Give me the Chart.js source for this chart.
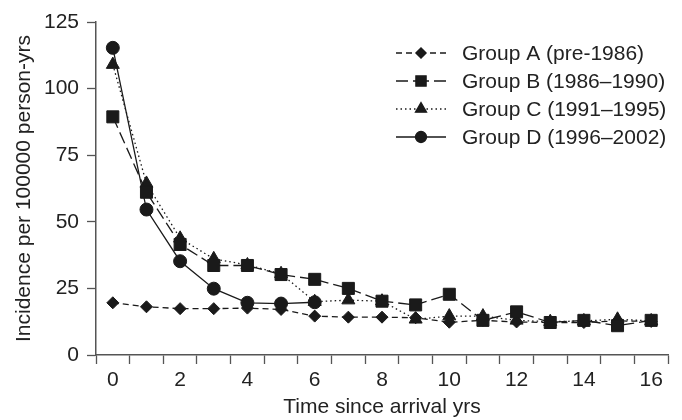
<!DOCTYPE html>
<html>
<head>
<meta charset="utf-8">
<script src="https://cdn.jsdelivr.net/npm/chart.js@4.4.1/dist/chart.umd.min.js"></script>
<style>
  body { margin: 0; background: #fff; }
  #wrap { width: 682px; height: 420px; }
</style>
</head>
<body>
<div id="wrap"><canvas id="myChart"></canvas></div>
<script>
// years since arrival
const years = [0, 1, 2, 3, 4, 5, 6, 7, 8, 9, 10, 11, 12, 13, 14, 15, 16];

// incidence per 100000 person-yrs
const groupA = [19.6, 18.1, 17.4, 17.4, 17.6, 17.1, 14.6, 14.2, 14.2, 14.0, 12.3, 13.0, 12.4, 12.2, 12.2, 12.8, 12.6];
const groupB = [89.4, 61.1, 41.5, 33.6, 33.6, 30.2, 28.4, 25.0, 20.2, 18.8, 22.8, 13.0, 16.2, 12.2, 13.0, 11.0, 13.0];
const groupC = [109.0, 64.4, 43.8, 36.1, 33.8, 30.5, 20.0, 20.6, 20.2, 13.4, 14.6, 14.6, 13.0, 12.5, 12.8, 13.4, 12.8];
const groupD = [115.3, 54.6, 35.2, 24.9, 19.6, 19.3, 19.8];

const seriesLabels = ['Group A (pre-1986)', 'Group B (1986\u20131990)', 'Group C (1991\u20131995)', 'Group D (1996\u20132002)'];
const yTicks = [0, 25, 50, 75, 100, 125];
const xLabels = [0, 2, 4, 6, 8, 10, 12, 14, 16];

const ink = '#1a1a1a';
const axisColor = '#555';
const fontFamily = "'Liberation Sans', Arial, sans-serif";

Chart.defaults.font.family = fontFamily;
Chart.defaults.font.size = 21;
Chart.defaults.color = '#222';

const toPoints = (vals) => vals.map((v, i) => ({ x: years[i], y: v }));

const makeSet = (label, vals, style, radius, dash, order) => ({
  label: label,
  data: toPoints(vals),
  borderColor: ink,
  borderWidth: 1.3,
  borderDash: dash,
  backgroundColor: ink,
  pointStyle: style,
  pointRadius: radius,
  pointHoverRadius: radius,
  pointBackgroundColor: ink,
  pointBorderColor: ink,
  pointBorderWidth: 1,
  tension: 0,
  fill: false,
  order: order
});

// legend with a line sample and marker, like the figure
const lineLegend = {
  id: 'lineLegend',
  afterDraw(chart) {
    const ctx = chart.ctx;
    const area = chart.chartArea;
    const x0 = area.right - 272;
    const sample = 50;
    ctx.save();
    ctx.font = '21px ' + fontFamily;
    ctx.textBaseline = 'middle';
    ctx.textAlign = 'left';
    chart.data.datasets.forEach((ds, i) => {
      const y = area.top + 31 + i * 28;
      const mid = x0 + sample / 2;
      ctx.strokeStyle = ds.borderColor;
      ctx.lineWidth = ds.borderWidth;
      ctx.setLineDash(ds.borderDash);
      ctx.beginPath();
      ctx.moveTo(x0, y);
      ctx.lineTo(mid, y);
      ctx.moveTo(x0 + sample, y);
      ctx.lineTo(mid, y);
      ctx.stroke();
      ctx.setLineDash([]);
      ctx.fillStyle = ds.pointBackgroundColor;
      ctx.strokeStyle = ds.pointBorderColor;
      Chart.helpers.drawPoint(ctx, {
        pointStyle: ds.pointStyle,
        radius: ds.pointRadius * 0.85,
        rotation: 0,
        borderWidth: 1
      }, mid, y);
      ctx.fillStyle = '#222';
      ctx.fillText(ds.label, x0 + sample + 16, y + 1);
    });
    ctx.restore();
  }
};

const ctx = document.getElementById('myChart').getContext('2d');
new Chart(ctx, {
  type: 'line',
  data: {
    datasets: [
      makeSet(seriesLabels[0], groupA, 'rectRot', 6, [6, 4], 2),
      makeSet(seriesLabels[1], groupB, 'rect', 8.5, [12, 5], 0),
      makeSet(seriesLabels[2], groupC, 'triangle', 7.5, [1.5, 3], 3),
      makeSet(seriesLabels[3], groupD, 'circle', 6.5, [], 1)
    ]
  },
  options: {
    responsive: true,
    maintainAspectRatio: false,
    animation: false,
    layout: {
      padding: { top: 22, right: 14, bottom: 0, left: 0 }
    },
    plugins: {
      legend: { display: false },
      tooltip: { enabled: false }
    },
    scales: {
      x: {
        type: 'linear',
        min: -0.5,
        max: 16.5,
        afterFit: (scale) => { scale.height = 65; },
        ticks: {
          stepSize: 0.5,
          autoSkip: false,
          maxRotation: 0,
          padding: 4,
          color: '#222',
          callback: (value) => xLabels.includes(value) ? String(value) : ''
        },
        grid: {
          drawOnChartArea: false,
          drawTicks: true,
          tickLength: 9,
          tickWidth: 1.3,
          tickColor: (c) => Number.isInteger(c.tick.value) ? 'rgba(0,0,0,0)' : axisColor
        },
        border: { color: axisColor, width: 1.5 },
        title: {
          display: true,
          text: 'Time since arrival yrs',
          color: '#222',
          padding: { top: 0, bottom: 0 }
        }
      },
      y: {
        min: 0,
        max: 125,
        afterFit: (scale) => { scale.width = 96; },
        afterBuildTicks: (scale) => { scale.ticks = yTicks.map(v => ({ value: v })); },
        ticks: {
          padding: 8,
          color: '#222'
        },
        grid: {
          drawOnChartArea: false,
          drawTicks: true,
          tickLength: 9,
          tickWidth: 1.3,
          tickColor: axisColor
        },
        border: { color: axisColor, width: 1.5 },
        title: {
          display: true,
          text: 'Incidence per 100000 person-yrs',
          color: '#222',
          padding: { top: 12, bottom: 0 }
        }
      }
    }
  },
  plugins: [lineLegend]
});
</script>
</body>
</html>
